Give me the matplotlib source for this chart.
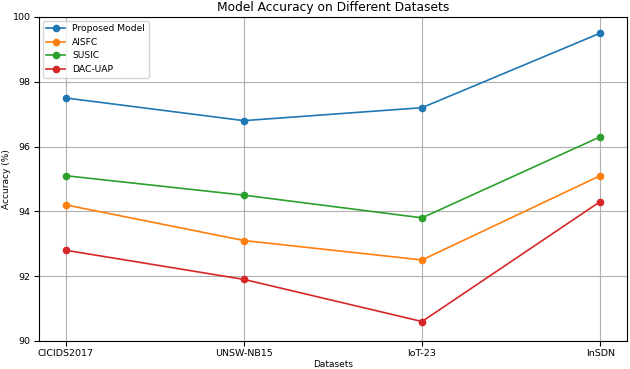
import matplotlib
matplotlib.use("Agg")
import matplotlib.pyplot as plt

datasets = ["CICIDS2017", "UNSW-NB15", "IoT-23", "InSDN"]
proposed = [97.5, 96.8, 97.2, 99.5]
aisfc = [94.2, 93.1, 92.5, 95.1]
susic = [95.1, 94.5, 93.8, 96.3]
dac_uap = [92.8, 91.9, 90.6, 94.3]

fig = plt.figure(figsize=(6.3, 3.69), dpi=100)
ax = fig.add_axes([0.062, 0.076, 0.933, 0.878])
for vals, lab in [(proposed, "Proposed Model"), (aisfc, "AISFC"),
                  (susic, "SUSIC"), (dac_uap, "DAC-UAP")]:
    ax.plot(datasets, vals, marker="o", markersize=4.5, linewidth=1.2, label=lab)
ax.set_ylim(90, 100)
ax.set_yticks([90, 92, 94, 96, 98, 100])
ax.grid(True, color="#b0b0b0", linewidth=0.8)
ax.tick_params(labelsize=6.8, pad=2.5)
ax.set_xlabel("Datasets", fontsize=6.5, labelpad=1)
ax.set_ylabel("Accuracy (%)", fontsize=6.5, labelpad=1)
ax.set_title("Model Accuracy on Different Datasets", fontsize=8.8, pad=4)
ax.legend(loc="upper left", fontsize=6.6, borderaxespad=0.4)
fig.savefig("out.png", dpi=100)
